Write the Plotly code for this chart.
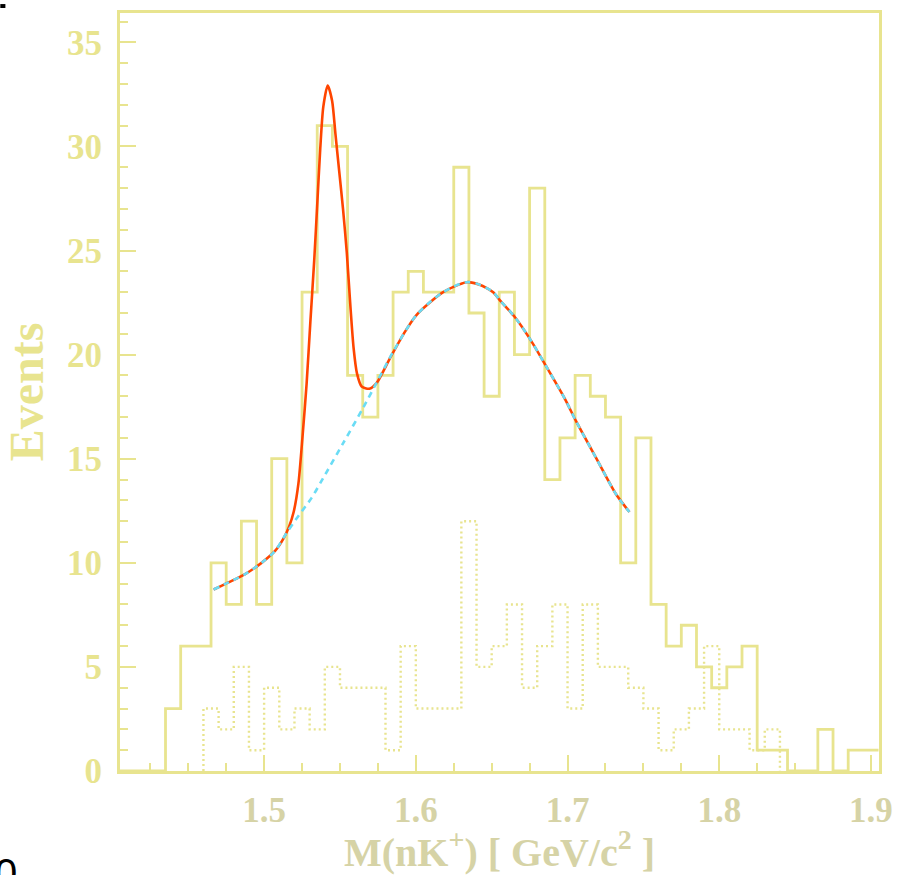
import plotly.graph_objects as go

# ---------------- data ----------------
bin_start = 1.405
bin_width = 0.01
# solid histogram counts, 50 bins from 1.405 to 1.905
counts_all = [0, 0, 0, 3, 6, 6, 10, 8, 12, 8,
              15, 10, 23, 31, 30, 19, 17, 19, 23, 24,
              23, 23, 29, 22, 18, 23, 20, 28, 14, 16,
              19, 18, 17, 10, 16, 8, 6, 7, 5, 4,
              5, 6, 1, 1, 0, 0, 2, 0, 1, 1]
# dotted histogram counts, 38 bins from 1.46 to 1.84
dot_start = 1.46
counts_dot = [3, 2, 5, 1, 4, 2, 3, 2, 5, 4,
              4, 4, 1, 6, 3, 3, 3, 12, 5, 6,
              8, 4, 6, 8, 3, 8, 5, 5, 4, 3,
              1, 2, 3, 6, 2, 2, 1, 2]

# fit curves
total_x = [1.4667, 1.4765, 1.4875, 1.4985, 1.5072, 1.5130, 1.5165, 1.5195, 1.5226, 1.5254,
           1.5280, 1.5305, 1.5330, 1.5350, 1.5370, 1.5390, 1.5419, 1.5448, 1.5470,
           1.5495, 1.5520, 1.5545, 1.5568, 1.5590, 1.5612, 1.5643, 1.5693, 1.5741,
           1.5829, 1.5920, 1.6004, 1.6180, 1.6334, 1.6421, 1.6510, 1.6553, 1.6651, 1.6750,
           1.6860, 1.6980, 1.7057, 1.7188, 1.7320, 1.7408]
total_y = [8.72, 9.06, 9.46, 10.01, 10.57, 11.2, 11.75, 12.45, 13.8, 16.15,
           18.6, 21.6, 24.5, 27.2, 29.9, 31.9, 32.93, 32.2, 30.6,
           28.8, 27.0, 24.9, 22.4, 20.3, 19.1, 18.47, 18.36, 18.63,
           19.82, 21.0, 21.9, 23.0, 23.48, 23.36, 23.0, 22.62, 21.82, 20.78,
           19.43, 17.91, 16.79, 15.04, 13.29, 12.44]
bg_x = [1.4667, 1.4765, 1.4875, 1.4985, 1.5072, 1.5149, 1.5226, 1.5313, 1.5390, 1.5522,
        1.5653, 1.5741, 1.5851, 1.6004, 1.6180, 1.6334, 1.6421, 1.6510, 1.6553, 1.6651,
        1.6750, 1.6860, 1.6980, 1.7057, 1.7188, 1.7320, 1.7408]
bg_y = [8.72, 9.06, 9.46, 10.01, 10.57, 11.45, 12.25, 13.12, 14.08, 15.76,
        17.45, 18.65, 20.14, 21.9, 23.0, 23.48, 23.36, 23.0, 22.62, 21.82,
        20.78, 19.43, 17.91, 16.79, 15.04, 13.29, 12.44]

x_ticks = [1.5, 1.6, 1.7, 1.8, 1.9]
x_ticklabels = ["1.5", "1.6", "1.7", "1.8", "1.9"]
y_ticks = [0, 5, 10, 15, 20, 25, 30, 35]
y_ticklabels = ["0", "5", "10", "15", "20", "25", "30", "35"]

# ---------------- styles ----------------
KHAKI = "#e8e48f"
XTEXT = "#d6d3a6"
RED = "#ff4500"
CYAN = "#6adcf5"
SERIF = "Liberation Serif"

# step outlines
n_all = len(counts_all)
xa = [round(bin_start + i * bin_width, 4) for i in range(n_all + 1)]
ya = counts_all + [counts_all[-1]]
xa = [xa[0]] + xa
ya = [0] + ya

n_dot = len(counts_dot)
xd = [round(dot_start + i * bin_width, 4) for i in range(n_dot + 1)]
yd = counts_dot + [0]
xd = [xd[0]] + xd
yd = [0] + yd

fig = go.Figure()
fig.add_trace(go.Scatter(x=xa, y=ya, mode="lines", line=dict(shape="hv", color=KHAKI, width=2.8),
                         hoverinfo="skip", showlegend=False))
fig.add_trace(go.Scatter(x=xd, y=yd, mode="lines",
                         line=dict(shape="hv", color=KHAKI, width=2.4, dash="2px,3px"),
                         hoverinfo="skip", showlegend=False))
fig.add_trace(go.Scatter(x=total_x, y=total_y, mode="lines",
                         line=dict(shape="spline", smoothing=0.7, color=RED, width=2.6),
                         showlegend=False))
fig.add_trace(go.Scatter(x=bg_x, y=bg_y, mode="lines",
                         line=dict(shape="spline", smoothing=0.8, color=CYAN, width=2.6, dash="6px,5px"),
                         showlegend=False))

fig.update_layout(
    width=903, height=875,
    margin=dict(l=120, r=22, t=10, b=104),
    paper_bgcolor="white", plot_bgcolor="white",
    xaxis=dict(
        range=[1.405, 1.9053],
        tickmode="array", tickvals=x_ticks, ticktext=x_ticklabels,
        ticks="inside", ticklen=16, tickwidth=2, tickcolor=KHAKI,
        minor=dict(dtick=0.025, tick0=1.4, ticks="inside", ticklen=8, tickwidth=2, tickcolor=KHAKI),
        showline=True, linecolor=KHAKI, linewidth=3, mirror=True,
        showgrid=False, zeroline=False,
        tickfont=dict(family=SERIF, size=35, color=XTEXT, weight="bold"),
        ticklabelstandoff=6,
        title=dict(text="M(nK<sup>+</sup>) [ GeV/c<sup>2</sup> ]",
                   font=dict(family=SERIF, size=40, color=XTEXT, weight="bold"),
                   standoff=4),
    ),
    yaxis=dict(
        range=[0, 36.41],
        tickmode="array", tickvals=y_ticks, ticktext=y_ticklabels,
        ticks="inside", ticklen=16, tickwidth=2, tickcolor=KHAKI,
        minor=dict(dtick=1, tick0=0, ticks="inside", ticklen=8, tickwidth=2, tickcolor=KHAKI),
        showline=True, linecolor=KHAKI, linewidth=3, mirror=True,
        showgrid=False, zeroline=False,
        tickfont=dict(family=SERIF, size=35, color=KHAKI, weight="bold"),
        ticklabelstandoff=8,
        title=dict(text="Events",
                   font=dict(family=SERIF, size=48, color=KHAKI, weight="bold"),
                   standoff=10),
    ),
)

# stray black "0" at the bottom-left edge and a tiny mark at top-left of the image
fig.add_annotation(text="0", xref="paper", yref="paper", x=-0.150, y=-0.135,
                   xanchor="center", yanchor="middle", showarrow=False,
                   font=dict(family="Liberation Sans", size=40, color="black"))
fig.add_shape(type="rect", xref="paper", yref="paper",
              x0=-0.1577, x1=-0.1510, y0=1.0066, y1=1.0118,
              fillcolor="black", line=dict(width=0))

fig.write_html("out.html")
